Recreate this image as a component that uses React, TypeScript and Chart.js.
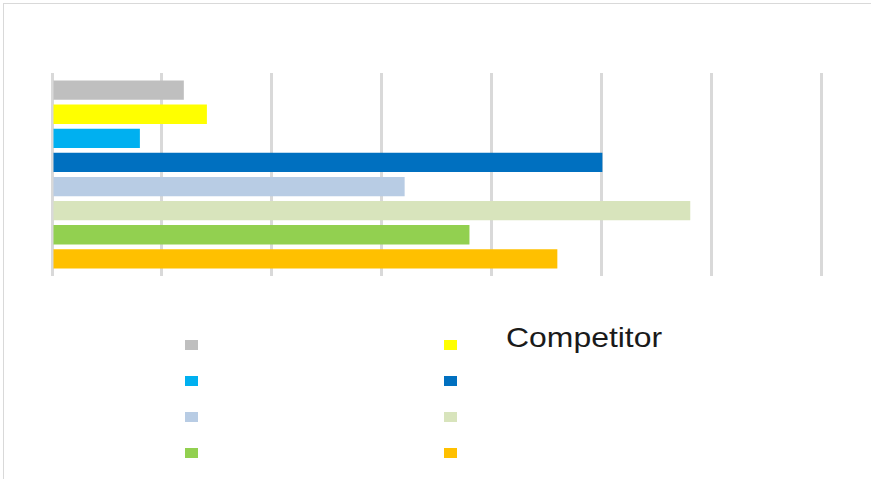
import React, { useEffect, useRef } from "react";
import { Chart, registerables } from "chart.js";

Chart.register(...registerables);

const categories = [""];
const seriesNames = [
  "Series 1",
  "Series 2",
  "Series 3",
  "Series 4",
  "Series 5",
  "Series 6",
  "Series 7",
  "Series 8",
];
const seriesValues = [12, 14.1, 8, 50.1, 32.1, 58.1, 38, 46];
const seriesColors = [
  "#bfbfbf",
  "#ffff00",
  "#00b0f0",
  "#0070c0",
  "#b8cce4",
  "#d8e4bc",
  "#92d050",
  "#ffc000",
];
const xMin = 0;
const xMax = 70;
const xStep = 10;
const floatingLabel = "Competitor";

export default function App() {
  const canvasRef = useRef<HTMLCanvasElement | null>(null);

  useEffect(() => {
    const canvas = canvasRef.current;
    if (!canvas) return;
    const chart = new Chart(canvas, {
      type: "bar",
      data: {
        labels: categories,
        datasets: seriesNames.map((name, i) => ({
          label: name,
          data: [seriesValues[i]],
          backgroundColor: seriesColors[i],
          borderWidth: 0,
          categoryPercentage: 0.95,
          barPercentage: 0.8,
        })),
      },
      options: {
        indexAxis: "y",
        animation: false,
        responsive: false,
        maintainAspectRatio: false,
        layout: { padding: { left: 52, right: 50, top: 73, bottom: 24 } },
        plugins: {
          legend: { display: false },
          title: { display: false },
          tooltip: { enabled: false },
        },
        scales: {
          x: {
            min: xMin,
            max: xMax,
            ticks: { display: false, stepSize: xStep },
            grid: { color: "#d9d9d9", lineWidth: 3, drawTicks: false },
            border: { display: false },
            afterFit: (s: any) => {
              s.height = 0;
            },
          },
          y: {
            display: false,
          },
        },
      },
    });
    return () => chart.destroy();
  }, []);

  return (
    <div style={{ position: "absolute", left: 0, top: 0, width: 871, height: 479, overflow: "hidden", fontFamily: "'Liberation Sans', Arial, sans-serif" }}>
      <div
        style={{
          position: "absolute",
          left: 3,
          top: 3,
          width: 900,
          height: 500,
          border: "1px solid #d9d9d9",
          boxSizing: "border-box",
        }}
      />
      <canvas
        ref={canvasRef}
        width={871}
        height={300}
        style={{ position: "absolute", left: 0, top: 0, width: 871, height: 300 }}
      />
      {seriesNames.map((name, i) => (
        <div
          key={name}
          title={name}
          style={{
            position: "absolute",
            left: 185 + (i % 2) * 259,
            top: 340 + Math.floor(i / 2) * 36,
            width: 13,
            height: 10,
            background: seriesColors[i],
          }}
        />
      ))}
      <div
        style={{
          position: "absolute",
          left: 506,
          top: 324,
          fontSize: 28,
          lineHeight: "28px",
          color: "#1a1a1a",
          whiteSpace: "nowrap",
          transform: "scaleX(1.14)",
          transformOrigin: "left top",
        }}
      >
        {floatingLabel}
      </div>
    </div>
  );
}
